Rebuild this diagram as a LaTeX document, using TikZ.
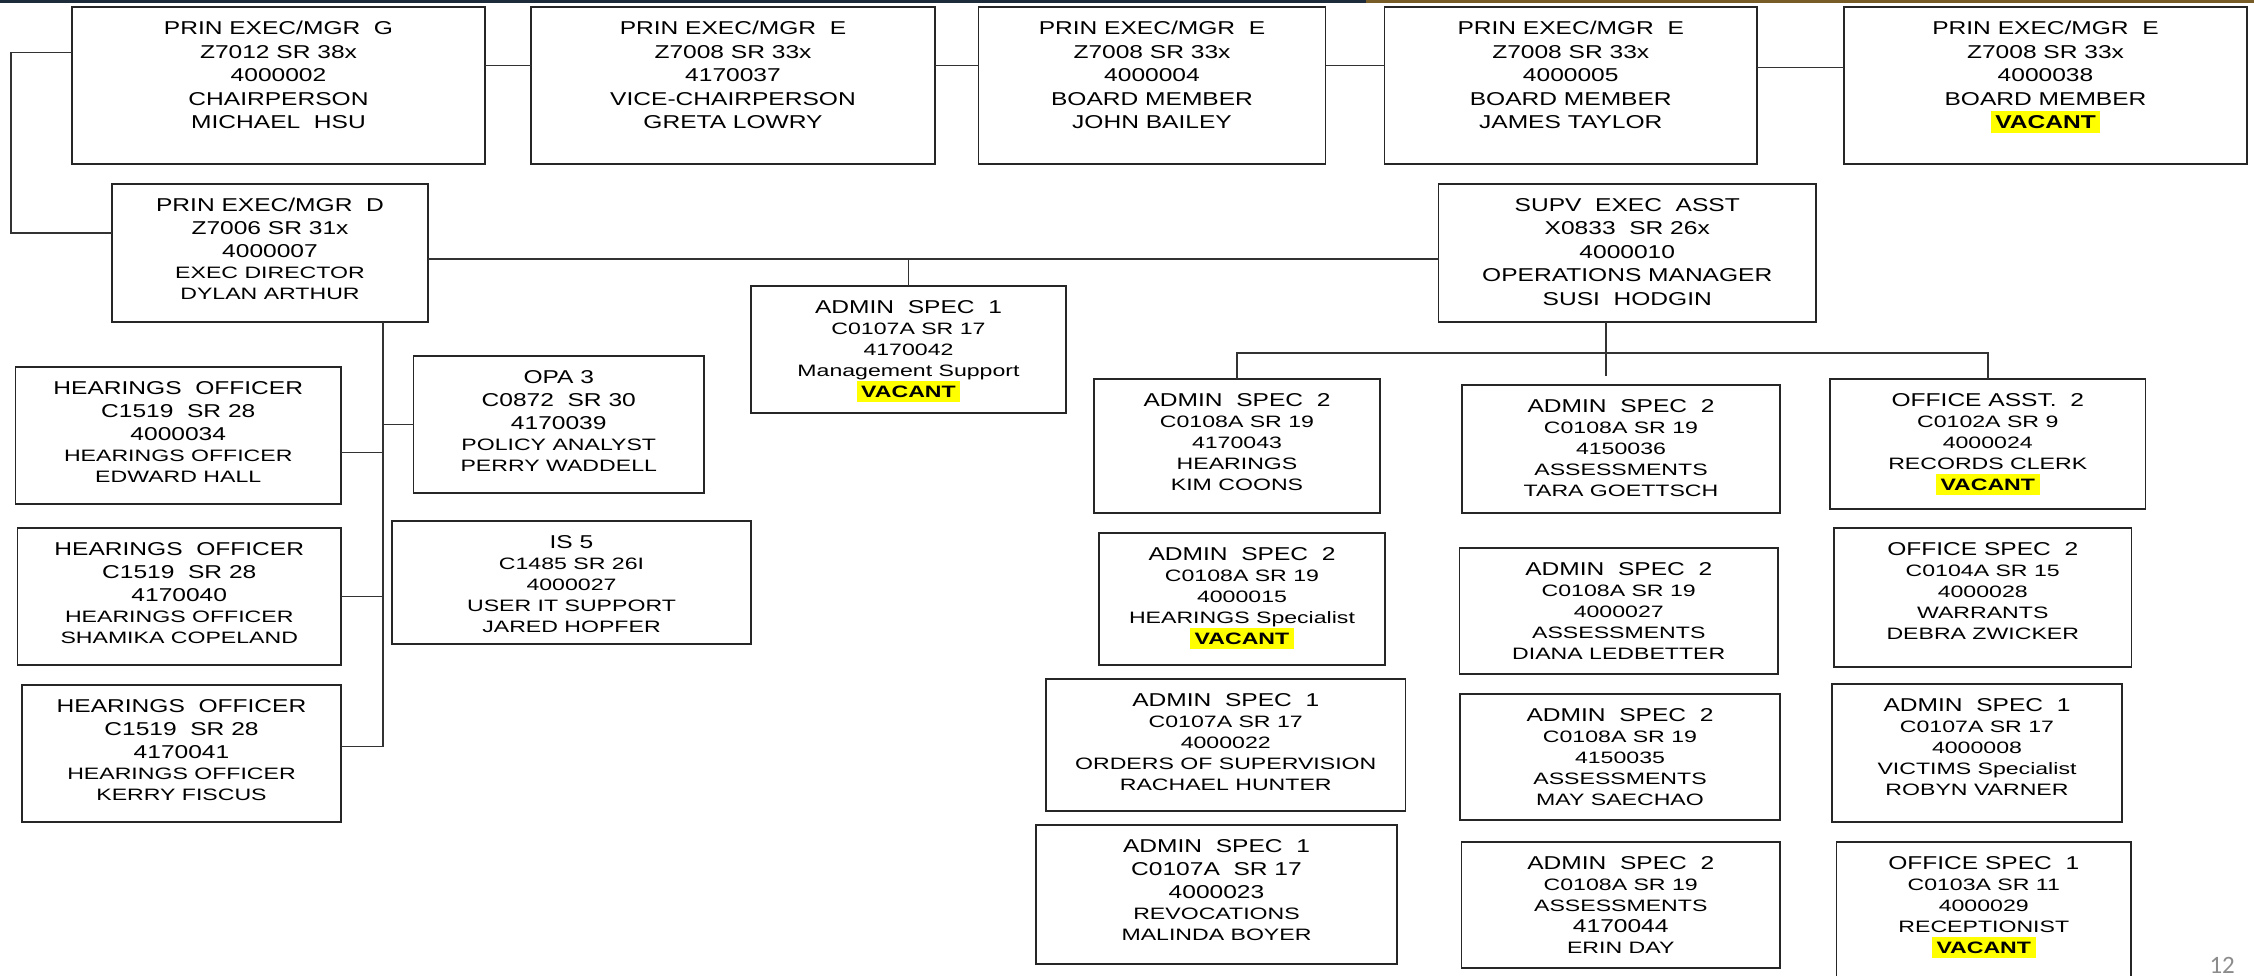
\documentclass[tikz,border=0pt]{standalone}
\usepackage{fontspec}
\usepackage{xcolor}
\newfontfamily\orgfont{Liberation Sans}[FakeStretch=1.32]
\newfontfamily\orgnarrow{Liberation Sans}[FakeStretch=1.4]
\newfontfamily\slidefont{Carlito}
\definecolor{vacancy}{RGB}{255,255,0}
\definecolor{barnavy}{RGB}{30,43,58}
\definecolor{bargold}{RGB}{120,92,40}
\newcommand{\lnbig}{\orgfont\fontsize{18.6}{23.5}\selectfont}
\newcommand{\lnsmall}{\orgnarrow\fontsize{16.5}{21}\selectfont}
\newcommand{\markvacant}{{\setlength{\fboxsep}{4.5pt}\colorbox{vacancy}{\bfseries VACANT}}}
\tikzset{
  postbox/.style={draw=black!85, line width=1.8pt, inner sep=0pt, outer sep=0pt, anchor=north west},
  postlabel/.style={font=\lnsmall, align=center, inner sep=0pt, anchor=north},
  allbig/.style={font=\lnbig},
  wire/.style={draw=black!80, line width=1.5pt}
}
% box from its corners, label hung from the top edge
\newcommand{\post}[7][]{%
  \node[postbox, minimum width=#5pt-#3pt, minimum height=#6pt-#4pt] (#2) at (#3,#4) {};
  \node[postlabel, #1] (#2-t) at ([yshift=-14pt]#2.north) {#7};
}

\begin{document}
\begin{tikzpicture}[x=1pt, y=-1pt]
        \useasboundingbox (0,0) rectangle (2254,976);

        \fill[barnavy] (0,0) rectangle (1366,3);
        \fill[bargold] (1366,0) rectangle (2254,3);

        % board
        \post[allbig]{chair}{72}{7}{485}{164}{PRIN EXEC/MGR\ \ G\\Z7012 SR 38x\\4000002\\CHAIRPERSON\\MICHAEL\ \ HSU}
        \post[allbig]{vice}{531}{7}{935}{164}{PRIN EXEC/MGR\ \ E\\Z7008 SR 33x\\4170037\\VICE-CHAIRPERSON\\GRETA LOWRY}
        \post[allbig]{bailey}{978.5}{7}{1325.5}{164}{PRIN EXEC/MGR\ \ E\\Z7008 SR 33x\\4000004\\BOARD MEMBER\\JOHN BAILEY}
        \post[allbig]{taylor}{1384.5}{7}{1757}{164}{PRIN EXEC/MGR\ \ E\\Z7008 SR 33x\\4000005\\BOARD MEMBER\\JAMES TAYLOR}
        \post[allbig]{seat}{1844}{7}{2247}{164}{PRIN EXEC/MGR\ \ E\\Z7008 SR 33x\\4000038\\BOARD MEMBER\\\markvacant}

        % executive director and operations manager
        \post{exec}{112}{184}{428}{322}{\lnbig PRIN EXEC/MGR\ \ D\\[2pt]\lnbig Z7006 SR 31x\\[2pt]\lnbig 4000007\\EXEC DIRECTOR\\DYLAN ARTHUR}
        \post[allbig]{supv}{1438.5}{184}{1816}{322}{SUPV\ \ EXEC\ \ ASST\\X0833\ \ SR 26x\\4000010\\OPERATIONS MANAGER\\SUSI\ \ HODGIN}
        \post{mgmt}{751}{286}{1066}{413}{\lnbig ADMIN\ \ SPEC\ \ 1\\C0107A SR 17\\4170042\\Management Support\\\markvacant}

        % exec director staff
        \post{ho1}{15.5}{367}{341}{504}{\lnbig HEARINGS\ \ OFFICER\\[2pt]\lnbig C1519\ \ SR 28\\[2pt]\lnbig 4000034\\HEARINGS OFFICER\\EDWARD HALL}
        \post{ho2}{17.5}{528}{341}{665}{\lnbig HEARINGS\ \ OFFICER\\[2pt]\lnbig C1519\ \ SR 28\\[2pt]\lnbig 4170040\\HEARINGS OFFICER\\SHAMIKA COPELAND}
        \post{ho3}{22}{685}{341}{822}{\lnbig HEARINGS\ \ OFFICER\\[2pt]\lnbig C1519\ \ SR 28\\[2pt]\lnbig 4170041\\HEARINGS OFFICER\\KERRY FISCUS}
        \post{opa}{413.5}{356}{704}{493}{\lnbig OPA 3\\[2pt]\lnbig C0872\ \ SR 30\\[2pt]\lnbig 4170039\\POLICY ANALYST\\PERRY WADDELL}
        \post{is5}{392}{521}{751}{644}{\lnbig IS 5\\C1485 SR 26I\\4000027\\USER IT SUPPORT\\JARED HOPFER}

        % operations staff
        \post{coons}{1094}{379}{1380}{513}{\lnbig ADMIN\ \ SPEC\ \ 2\\C0108A SR 19\\4170043\\HEARINGS\\KIM COONS}
        \post{hspec}{1099}{533}{1385}{665}{\lnbig ADMIN\ \ SPEC\ \ 2\\C0108A SR 19\\4000015\\HEARINGS Specialist\\\markvacant}
        \post{hunter}{1046}{679}{1405.5}{811}{\lnbig ADMIN\ \ SPEC\ \ 1\\C0107A SR 17\\4000022\\ORDERS OF SUPERVISION\\RACHAEL HUNTER}
        \post{boyer}{1036}{825}{1397}{964}{\lnbig ADMIN\ \ SPEC\ \ 1\\[2pt]\lnbig C0107A\ \ SR 17\\[2pt]\lnbig 4000023\\REVOCATIONS\\MALINDA BOYER}
        \post{goettsch}{1462}{385}{1780}{513}{\lnbig ADMIN\ \ SPEC\ \ 2\\C0108A SR 19\\4150036\\ASSESSMENTS\\TARA GOETTSCH}
        \post{ledbetter}{1459.5}{548}{1778}{674}{\lnbig ADMIN\ \ SPEC\ \ 2\\C0108A SR 19\\4000027\\ASSESSMENTS\\DIANA LEDBETTER}
        \post{saechao}{1460}{694}{1780}{820}{\lnbig ADMIN\ \ SPEC\ \ 2\\C0108A SR 19\\4150035\\ASSESSMENTS\\MAY SAECHAO}
        \post{day}{1461.5}{842}{1780}{968}{\lnbig ADMIN\ \ SPEC\ \ 2\\C0108A SR 19\\ASSESSMENTS\\\lnbig 4170044\\ERIN DAY}
        \post{records}{1830}{379}{2145.5}{509}{\lnbig OFFICE ASST.\ \ 2\\C0102A SR 9\\4000024\\RECORDS CLERK\\\markvacant}
        \post{zwicker}{1834}{528}{2131.5}{667}{\lnbig OFFICE SPEC\ \ 2\\C0104A SR 15\\4000028\\WARRANTS\\DEBRA ZWICKER}
        \post{varner}{1832}{684}{2122}{822}{\lnbig ADMIN\ \ SPEC\ \ 1\\C0107A SR 17\\4000008\\VICTIMS Specialist\\ROBYN VARNER}
        \post{desk}{1836.5}{842}{2131}{990}{\lnbig OFFICE SPEC\ \ 1\\C0103A SR 11\\4000029\\RECEPTIONIST\\\markvacant}

        % board line
        \draw[wire] ([yshift=20pt]chair.east) -- ([yshift=20pt]vice.west);
        \draw[wire] ([yshift=20pt]vice.east) -- ([yshift=20pt]bailey.west);
        \draw[wire] ([yshift=20pt]bailey.east) -- ([yshift=20pt]taylor.west);
        \draw[wire] ([yshift=18pt]taylor.east) -- ([yshift=18pt]seat.west);
        \draw[wire] ([yshift=33pt]chair.west) -- ++(-61,0) |- ([yshift=20pt]exec.west);

        % exec director to operations
        \coordinate (staff) at ([yshift=-6pt]supv.west);
        \draw[wire] ([yshift=-6pt]exec.east) -- (staff);
        \draw[wire] (mgmt.north) -- (mgmt.north |- staff);

        % exec director trunk
        \coordinate (trunk) at ([xshift=113pt]exec.south);
        \coordinate (ho1-in) at ([yshift=-17pt]ho1.east);
        \coordinate (ho3-in) at ([yshift=7pt]ho3.east);
        \draw[wire] (trunk) |- (ho3-in);
        \draw[wire] (trunk |- ho1-in) -- (ho1-in);
        \draw[wire] (trunk |- ho2.east) -- (ho2.east);
        \draw[wire] (trunk |- opa.west) -- (opa.west);

        % operations bus
        \coordinate (ops) at ([xshift=-21.5pt]supv.south);
        \coordinate (bus) at ([yshift=26pt]coons.north);
        \draw[wire, shorten >=9pt] (ops) -- (ops |- goettsch.north);
        \draw[wire] (coons.north) -- (bus) -| (records.north);

        \node[anchor=base west, text=black!45, font=\slidefont\fontsize{25}{28}\selectfont] (pagenum) at (2206,973) {12};
\end{tikzpicture}
\end{document}
